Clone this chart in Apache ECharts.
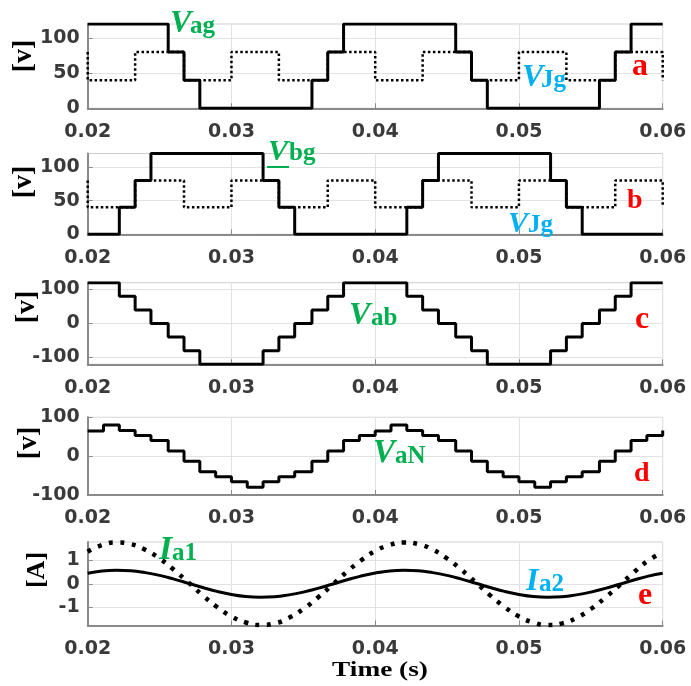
<!DOCTYPE html>
<html><head><meta charset="utf-8">
<script src="https://cdn.jsdelivr.net/npm/echarts@6/dist/echarts.min.js"></script>
<style>html,body{margin:0;padding:0;background:#fff}#c{width:691px;height:686px}</style>
</head><body><div id="c"></div>
<script>
// ---------- tick labels ----------
const xTicks = [0.02, 0.03, 0.04, 0.05, 0.06];
const yTicksAB = [0, 50, 100];
const yTicksC = [-100, 0, 100];
const yTicksD = [-100, 0, 100];
const yTicksE = [-1, 0, 1];

// ---------- panel a: Vag (solid) and VJg (dotted) ----------
const vagT = [0.02, 0.0256, 0.0267, 0.0278, 0.0356, 0.0367, 0.0378, 0.0456, 0.0467, 0.0478, 0.0556, 0.0567, 0.0578, 0.06];
const vagV = [120, 80, 40, 0, 40, 80, 120, 80, 40, 0, 40, 80, 120, 120];
const vjgT = [0.02, 0.02, 0.0233, 0.0267, 0.03, 0.0333, 0.0367, 0.04, 0.0433, 0.0467, 0.05, 0.0533, 0.0567, 0.06, 0.06];
const vjgV = [80, 40, 80, 40, 80, 40, 80, 40, 80, 40, 80, 40, 80, 80, 40];

// ---------- panel b: Vbg ----------
const vbgT = [0.02, 0.0222, 0.0233, 0.0244, 0.0322, 0.0333, 0.0344, 0.0422, 0.0433, 0.0444, 0.0522, 0.0533, 0.0544, 0.06];
const vbgV = [0, 40, 80, 120, 80, 40, 0, 40, 80, 120, 80, 40, 0, 0];

// ---------- panel c: Vab ----------
const vabT = [0.02, 0.0222, 0.0233, 0.0244, 0.0256, 0.0267, 0.0278, 0.0322, 0.0333, 0.0344, 0.0356, 0.0367, 0.0378, 0.0422, 0.0433, 0.0444, 0.0456, 0.0467, 0.0478, 0.0522, 0.0533, 0.0544, 0.0556, 0.0567, 0.0578, 0.06];
const vabV = [120, 80, 40, 0, -40, -80, -120, -80, -40, 0, 40, 80, 120, 80, 40, 0, -40, -80, -120, -80, -40, 0, 40, 80, 120, 120];

// ---------- panel d: VaN ----------
const vanT = [0.02, 0.0211, 0.0222, 0.0233, 0.0244, 0.0256, 0.0267, 0.0278, 0.0289, 0.03, 0.0311, 0.0322, 0.0333, 0.0344, 0.0356, 0.0367, 0.0378, 0.0389, 0.04, 0.0411, 0.0422, 0.0433, 0.0444, 0.0456, 0.0467, 0.0478, 0.0489, 0.05, 0.0511, 0.0522, 0.0533, 0.0544, 0.0556, 0.0567, 0.0578, 0.0589, 0.06];
const vanV = [65, 80, 66, 53, 40, 13, -13, -40, -53, -66, -80, -66, -53, -40, -13, 13, 40, 53, 65, 80, 66, 53, 40, 13, -13, -40, -53, -66, -80, -66, -53, -40, -13, 13, 40, 53, 66];

// ---------- panel e: Ia1 (dotted), Ia2 (solid) ----------
const iaT = [0.02, 0.021, 0.022, 0.023, 0.024, 0.025, 0.026, 0.027, 0.028, 0.029, 0.03, 0.031, 0.032, 0.033, 0.034, 0.035, 0.036, 0.037, 0.038, 0.039, 0.04, 0.041, 0.042, 0.043, 0.044, 0.045, 0.046, 0.047, 0.048, 0.049, 0.05, 0.051, 0.052, 0.053, 0.054, 0.055, 0.056, 0.057, 0.058, 0.059, 0.06];
const ia1V = [1.38, 1.67, 1.78, 1.71, 1.47, 1.09, 0.60, 0.06, -0.50, -1.00, -1.41, -1.67, -1.78, -1.71, -1.47, -1.09, -0.60, -0.06, 0.50, 1.00, 1.41, 1.67, 1.78, 1.71, 1.47, 1.09, 0.60, 0.06, -0.50, -1.00, -1.41, -1.67, -1.78, -1.71, -1.47, -1.09, -0.60, -0.06, 0.50, 1.00, 1.36];
const ia2V = [0.45, 0.55, 0.58, 0.56, 0.48, 0.36, 0.20, 0.02, -0.16, -0.33, -0.46, -0.55, -0.58, -0.56, -0.48, -0.36, -0.20, -0.02, 0.16, 0.33, 0.46, 0.55, 0.58, 0.56, 0.48, 0.36, 0.20, 0.02, -0.16, -0.33, -0.46, -0.55, -0.58, -0.56, -0.48, -0.36, -0.20, -0.02, 0.16, 0.33, 0.45];

function pairs(t, v) { return t.map((x, i) => [x, v[i]]); }

const grids = [
  { top: 24, height: 84.3, ymin: 0, ymax: 120, ticks: yTicksAB },
  { top: 153.5, height: 80.8, ymin: 0, ymax: 120, ticks: yTicksAB },
  { top: 282.7, height: 81.6, ymin: -120, ymax: 120, ticks: yTicksC },
  { top: 417.3, height: 77.7, ymin: -100, ymax: 100, ticks: yTicksD },
  { top: 542, height: 83.5, ymin: -1.8, ymax: 1.8, ticks: yTicksE }
];

const tickFont = { fontFamily: 'DejaVu Sans', fontWeight: 'bold', fontSize: 19, color: '#3a3a3a' };
const axisCol = '#8a8a8a';
const gridCol = '#e2e2e2';

const option = {
  animation: false,
  backgroundColor: '#ffffff',
  grid: grids.map(g => ({ left: 87.7, right: 28.3, top: g.top, height: g.height, show: true, borderColor: '#cfcfcf', borderWidth: 1, backgroundColor: 'transparent' })),
  xAxis: grids.map((g, i) => ({
    type: 'value', gridIndex: i, min: 0.02, max: 0.06,
    axisLine: { show: true, onZero: false, lineStyle: { color: axisCol, width: 2 } },
    axisTick: { show: true, inside: true, length: 5, customValues: xTicks, lineStyle: { color: axisCol } },
    axisLabel: Object.assign({ customValues: xTicks, margin: 14, formatter: v => v.toFixed(2) }, tickFont),
    splitLine: { show: true, lineStyle: { color: gridCol, width: 1 } }
  })),
  yAxis: grids.map((g, i) => ({
    type: 'value', gridIndex: i, min: g.ymin, max: g.ymax,
    axisLine: { show: true, onZero: false, lineStyle: { color: axisCol, width: 2 } },
    axisTick: { show: true, inside: true, length: 5, customValues: g.ticks, lineStyle: { color: axisCol } },
    axisLabel: Object.assign({ customValues: g.ticks, margin: 8 }, tickFont),
    splitLine: { show: true, lineStyle: { color: gridCol, width: 1 } }
  })),
  series: [
    { type: 'line', xAxisIndex: 0, yAxisIndex: 0, step: 'end', symbol: 'none', data: pairs(vjgT, vjgV), lineStyle: { color: '#000', width: 2.5, type: [2.5, 2.5] } },
    { type: 'line', xAxisIndex: 0, yAxisIndex: 0, step: 'end', symbol: 'none', data: pairs(vagT, vagV), lineStyle: { color: '#000', width: 3 } },
    { type: 'line', xAxisIndex: 1, yAxisIndex: 1, step: 'end', symbol: 'none', data: pairs(vjgT, vjgV), lineStyle: { color: '#000', width: 2.5, type: [2.5, 2.5] } },
    { type: 'line', xAxisIndex: 1, yAxisIndex: 1, step: 'end', symbol: 'none', data: pairs(vbgT, vbgV), lineStyle: { color: '#000', width: 3 } },
    { type: 'line', xAxisIndex: 2, yAxisIndex: 2, step: 'end', symbol: 'none', data: pairs(vabT, vabV), lineStyle: { color: '#000', width: 3 } },
    { type: 'line', xAxisIndex: 3, yAxisIndex: 3, step: 'end', symbol: 'none', data: pairs(vanT, vanV), lineStyle: { color: '#000', width: 3 } },
    { type: 'line', xAxisIndex: 4, yAxisIndex: 4, smooth: true, symbol: 'none', data: pairs(iaT, ia1V), lineStyle: { color: '#000', width: 4.5, type: [4, 7.5] } },
    { type: 'line', xAxisIndex: 4, yAxisIndex: 4, smooth: true, symbol: 'none', data: pairs(iaT, ia2V), lineStyle: { color: '#000', width: 3 } }
  ],
  graphic: []
};

// ---------- text annotations ----------
const GREEN = '#00B050', BLUE = '#00B0F0', RED = '#FF0000';
const SERIF = 'Liberation Serif';
// [text, left x, baseline y, font size, italic, color]
const annParts = [
  ['V', 170, 35, 32, true, GREEN], ['ag', 190, 35, 25, false, GREEN],
  ['V', 522, 89, 32, true, BLUE], ['Jg', 541, 89, 25, false, BLUE],
  ['a', 632, 78, 32, false, RED],
  ['V', 268, 162, 30, true, GREEN], ['bg', 289, 162, 25, false, GREEN],
  ['V', 508, 234, 30, true, BLUE], ['Jg', 528, 234, 25, false, BLUE],
  ['b', 627, 210, 28, false, RED],
  ['V', 349, 327, 32, true, GREEN], ['ab', 371, 327, 25, false, GREEN],
  ['c', 635, 331, 32, false, RED],
  ['V', 373, 465, 33, true, GREEN], ['aN', 395, 465, 25, false, GREEN],
  ['d', 634, 483, 28, false, RED],
  ['I', 159, 562, 34, true, GREEN], ['a1', 172, 562, 25, false, GREEN],
  ['I', 526, 593, 32, true, BLUE], ['a2', 539, 593, 25, false, BLUE],
  ['e', 638, 607, 32, false, RED]
];
annParts.forEach(p => {
  option.graphic.push({
    type: 'text', x: p[1], y: p[2] - 0.34 * p[3], z: 100,
    style: { text: p[0], fontFamily: SERIF, fontWeight: 'bold', fontStyle: p[4] ? 'italic' : 'normal', fontSize: p[3], fill: p[5], textAlign: 'left', textVerticalAlign: 'middle' }
  });
});
// underline under V of Vbg
option.graphic.push({ type: 'rect', z: 100, shape: { x: 267, y: 166, width: 22, height: 2 }, style: { fill: GREEN } });

// axis names
const yNames = [['[v]', 24, 56, 28], ['[v]', 24, 182, 28], ['[v]', 27, 307, 28], ['[v]', 29, 443, 28], ['[A]', 37, 570, 26]];
yNames.forEach(n => {
  option.graphic.push({
    type: 'text', x: n[1], y: n[2], rotation: Math.PI / 2, z: 100,
    style: { text: n[0], fontFamily: SERIF, fontWeight: 'bold', fontSize: n[3], fill: '#000', textAlign: 'center', textVerticalAlign: 'middle' }
  });
});
option.graphic.push({
  type: 'text', x: 380, y: 671, scaleX: 1.3, z: 100,
  style: { text: 'Time (s)', fontFamily: SERIF, fontWeight: 'bold', fontSize: 21, fill: '#000', textAlign: 'center', textVerticalAlign: 'middle' }
});

const chart = echarts.init(document.getElementById('c'), null, { renderer: 'canvas' });
chart.setOption(option);
</script>
</body></html>
